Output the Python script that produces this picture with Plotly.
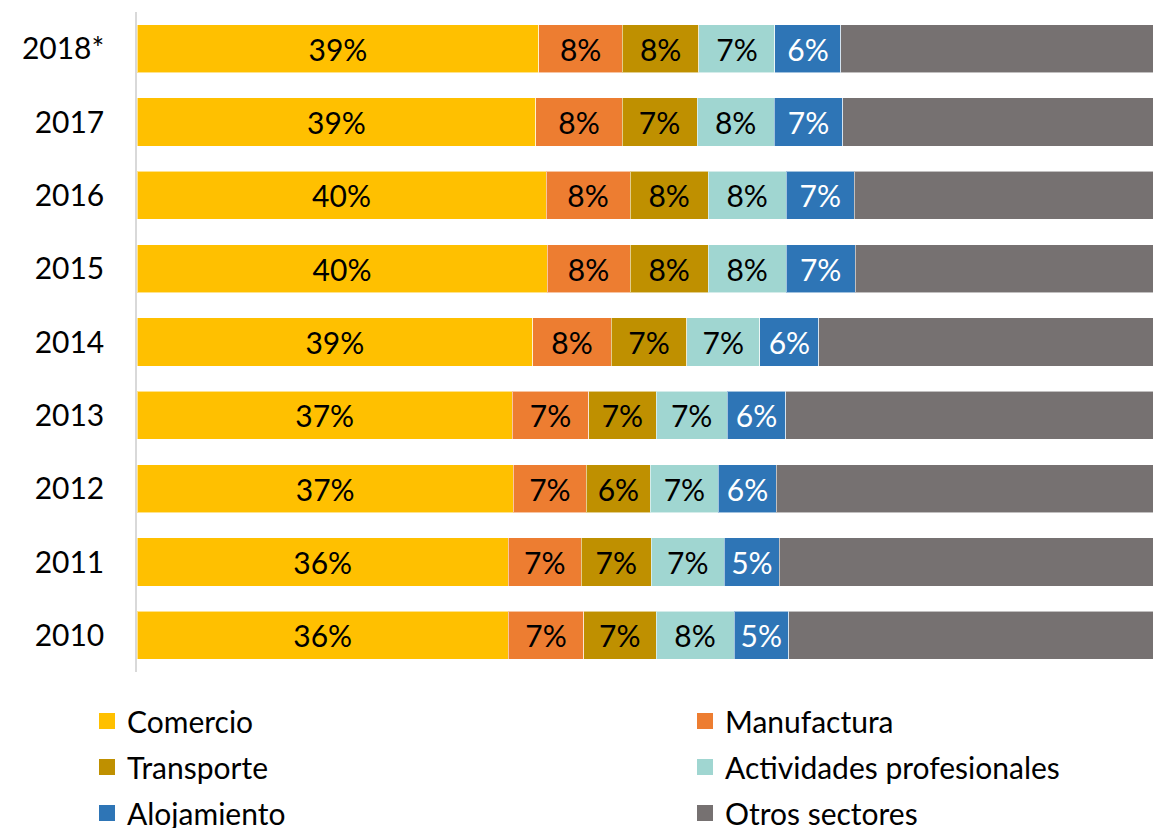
import plotly.graph_objects as go

years = ["2010", "2011", "2012", "2013", "2014", "2015", "2016", "2017", "2018*"]

comercio = [36.4, 36.4, 36.9, 36.8, 38.8, 40.2, 40.1, 39.1, 39.4]
manufactura = [7.38, 7.16, 7.16, 7.48, 7.7, 8.14, 8.24, 8.45, 8.18]
transporte = [7.1, 6.86, 6.27, 6.6, 7.38, 7.65, 7.65, 7.35, 7.51]
actividades = [7.65, 7.16, 6.67, 6.99, 7.19, 7.65, 7.65, 7.58, 7.45]
alojamiento = [5.35, 5.39, 5.69, 5.72, 5.78, 6.76, 6.67, 6.7, 6.47]
otros = [36.1, 37.0, 37.3, 36.4, 33.2, 29.6, 29.7, 30.8, 31.0]

series = [
    ("Comercio", comercio, "#FFC000", "black", True, "legend"),
    ("Manufactura", manufactura, "#ED7D31", "black", True, "legend2"),
    ("Transporte", transporte, "#BF9000", "black", True, "legend"),
    ("Actividades profesionales", actividades, "#A0D6D1", "black", True, "legend2"),
    ("Alojamiento", alojamiento, "#2E75B6", "white", True, "legend"),
    ("Otros sectores", otros, "#767171", "white", False, "legend2"),
]

FONT = "Lato, 'Open Sans', sans-serif"

fig = go.Figure()
for i, (name, vals, color, tcolor, show_text, lg) in enumerate(series):
    fig.add_trace(go.Bar(
        y=years, x=vals, name=name, orientation="h",
        marker=dict(color=color, line=dict(color="rgba(255,255,255,0.55)", width=1)),
        texttemplate="%{x:.0f}%" if show_text else None,
        textposition="inside" if show_text else "none",
        insidetextanchor="middle",
        textangle=0,
        insidetextfont=dict(family=FONT, size=30, color=tcolor),
        showlegend=False, legendgroup=name, hoverinfo="skip",
    ))
    fig.add_trace(go.Scatter(
        x=[None], y=[None], mode="markers", name=name,
        marker=dict(symbol="square", size=16, color=color, line=dict(width=0)),
        legend=lg, legendgroup=name, showlegend=True, hoverinfo="skip",
    ))

leg_common = dict(
    xref="container", yref="container", xanchor="left", yanchor="top",
    bgcolor="rgba(0,0,0,0)", borderwidth=0,
    font=dict(family=FONT, size=30, color="black"),
    traceorder="grouped", tracegroupgap=4, orientation="v",
)

fig.update_layout(
    width=1153, height=828,
    margin=dict(l=137, r=0, t=12, b=156, autoexpand=False),
    paper_bgcolor="white", plot_bgcolor="white",
    barmode="stack", bargap=0.345,
    showlegend=True,
    legend=dict(x=87 / 1153, y=(828 - 695) / 828, **leg_common),
    legend2=dict(x=685 / 1153, y=(828 - 695) / 828, **leg_common),
    xaxis=dict(range=[0, 99.6], visible=False, fixedrange=True),
    yaxis=dict(
        type="category", showline=True, linecolor="#D9D9D9", linewidth=1.5,
        ticks="", showgrid=False, zeroline=False,
        tickfont=dict(family=FONT, size=30, color="black"),
        ticklabelstandoff=25, fixedrange=True,
    ),
    uniformtext=dict(mode=False),
)

fig.write_html(
    "out.html",
    config={"displayModeBar": False},
    post_script="document.body.style.margin='0px';document.body.style.overflow='hidden';",
)
